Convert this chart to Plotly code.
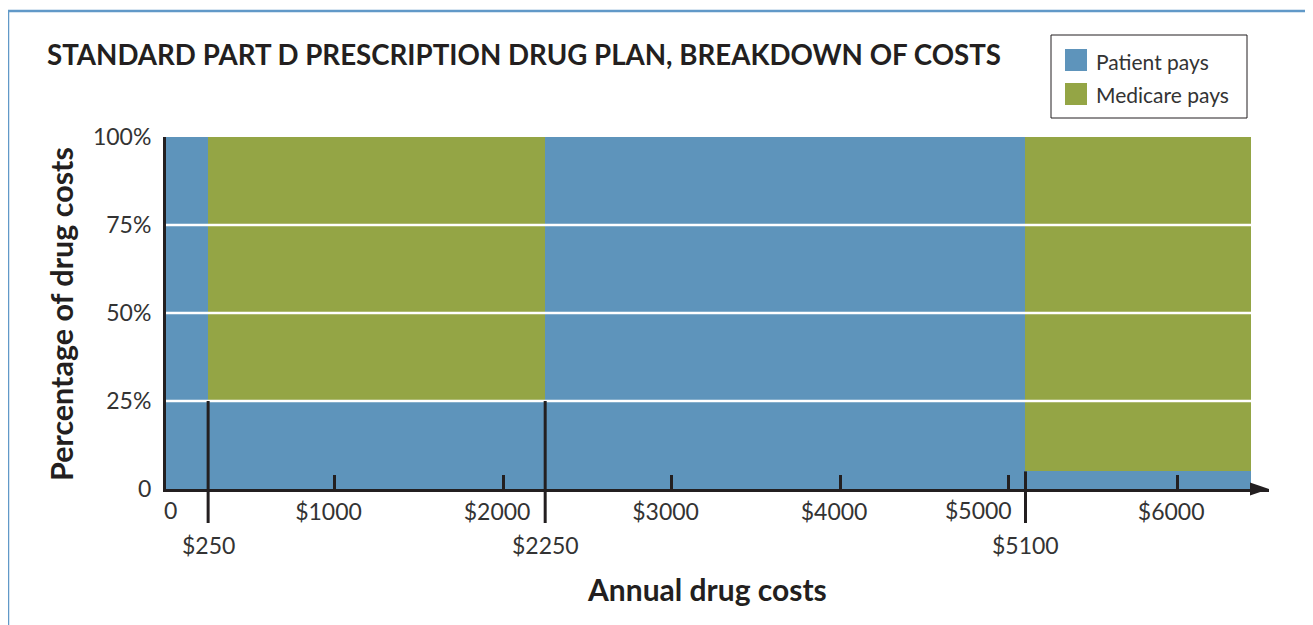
import plotly.graph_objects as go

# ---- data ----
boundaries = [0, 250, 2250, 5100, 6440]          # annual drug cost breakpoints ($)
patient_pct = [100, 25, 100, 5]                   # % paid by patient in each band
medicare_pct = [0, 75, 0, 95]                     # % paid by Medicare in each band
threshold_values = [250, 2250, 5100]
threshold_labels = ["$250", "$2250", "$5100"]
x_tickvals = [1000, 2000, 3000, 4000, 5000, 6000]
x_ticktext = ["$1000", "$2000", "$3000", "$4000", "$5000", "$6000"]
x_origin_label = "0"
y_tickvals = [0, 25, 50, 75, 100]
y_ticktext = ["0", "25%", "50%", "75%", "100%"]
grid_vals = [25, 50, 75]
series_names = ["Patient pays", "Medicare pays"]

BLUE = "#5e94bb"
GREEN = "#94a545"
INK = "#231f20"
TXT = "#333333"
FRAME = "#6199c8"
FONT = "Lato"

centers = [(boundaries[i] + boundaries[i + 1]) / 2 for i in range(len(boundaries) - 1)]
widths = [boundaries[i + 1] - boundaries[i] for i in range(len(boundaries) - 1)]

OFF = 8  # page body margin
W, H = 1313 - OFF, 625 - OFF
# plot area in page pixels: x 166..1269, y 137..489
PL, PR, PT, PB = 166, 1269, 137, 489
ML, MR, MT, MB = PL - OFF, W - (PR - OFF), PT - OFF, H - (PB - OFF)
PW = PR - PL
PH = PB - PT
X_MAX = 6545

def px(p):  # page x -> paper x
    return (p - PL) / PW

def py(p):  # page y -> paper y
    return (PB - p) / PH

fig = go.Figure()
fig.add_trace(go.Bar(x=centers, y=patient_pct, width=widths, name=series_names[0],
                     marker=dict(color=BLUE, line=dict(width=0)), hoverinfo="skip"))
fig.add_trace(go.Bar(x=centers, y=medicare_pct, width=widths, name=series_names[1],
                     marker=dict(color=GREEN, line=dict(width=0)), hoverinfo="skip"))

shapes = []
for g in grid_vals:
    shapes.append(dict(type="line", xref="x", yref="y", x0=boundaries[0], x1=boundaries[-1],
                       y0=g, y1=g, line=dict(color="white", width=2.5), layer="above"))

bottom = py(523)
for t in threshold_values:
    i = boundaries.index(t)
    top = min(patient_pct[i - 1], patient_pct[i]) / 100.0
    shapes.append(dict(type="line", xref="x", yref="paper", x0=t, x1=t, y0=top, y1=bottom,
                       line=dict(color=INK, width=3), layer="above"))

# arrow head at the end of the x axis (paper refs so it is not clipped)
shapes.append(dict(type="path", xref="paper", yref="paper", xsizemode="pixel", ysizemode="pixel",
                   xanchor=1, yanchor=0, path="M 0 0 L -19 -6.5 L -19 6.5 Z",
                   fillcolor=INK, line=dict(width=0), layer="above"))

shapes.append(dict(type="rect", xref="paper", yref="paper",
                   x0=px(8), x1=px(1307), y0=py(660), y1=py(11),
                   line=dict(color=FRAME, width=2.5), fillcolor="rgba(0,0,0,0)", layer="above"))

shapes.append(dict(type="rect", xref="paper", yref="paper",
                   x0=px(1051), x1=px(1247), y0=py(118), y1=py(35),
                   line=dict(color=INK, width=1), fillcolor="white", layer="above"))
legend_rows = [(60, BLUE), (94, GREEN)]
annotations = []
for (cy, col), name in zip(legend_rows, series_names):
    shapes.append(dict(type="rect", xref="paper", yref="paper",
                       x0=px(1065), x1=px(1087), y0=py(cy + 11), y1=py(cy - 11),
                       line=dict(width=0), fillcolor=col, layer="above"))
    annotations.append(dict(xref="paper", yref="paper", x=px(1094), y=py(cy + 1),
                            xanchor="left", yanchor="middle", text=name, showarrow=False,
                            font=dict(family=FONT, size=21, color=TXT)))

for t, lab in zip(threshold_values, threshold_labels):
    annotations.append(dict(xref="x", yref="paper", x=t, y=py(545),
                            xanchor="center", yanchor="middle", text=lab, showarrow=False,
                            font=dict(family=FONT, size=23, color=TXT)))

# origin label of the x axis
annotations.append(dict(xref="x", yref="paper", x=0, y=py(510), xshift=4,
                        xanchor="center", yanchor="middle", text=x_origin_label, showarrow=False,
                        font=dict(family=FONT, size=23, color=TXT)))

# tick labels: the one next to the $5100 marker is set to the left of its tick
axis_ticktext = []
for v, lab in zip(x_tickvals, x_ticktext):
    crowded = any(0 < t - v < 200 for t in threshold_values)
    if crowded:
        axis_ticktext.append("")
        annotations.append(dict(xref="x", yref="paper", x=v, y=py(510), xshift=5,
                                xanchor="right", yanchor="middle", text=lab, showarrow=False,
                                font=dict(family=FONT, size=23, color=TXT)))
    else:
        axis_ticktext.append(lab)

annotations.append(dict(xref="paper", yref="paper", x=px(707), y=py(589),
                        xanchor="center", yanchor="middle", text="<b>Annual drug costs</b>",
                        showarrow=False, font=dict(family=FONT, size=30, color=INK)))
annotations.append(dict(xref="paper", yref="paper", x=px(61), y=py(314),
                        xanchor="center", yanchor="middle", text="<b>Percentage of drug costs</b>",
                        textangle=-90, showarrow=False, font=dict(family=FONT, size=30.5, color=INK)))

fig.update_layout(
    width=W, height=H,
    margin=dict(l=ML, r=MR, t=MT, b=MB),
    paper_bgcolor="white", plot_bgcolor="white",
    barmode="stack",
    showlegend=False,
    title=dict(text="<b>STANDARD PART D PRESCRIPTION DRUG PLAN, BREAKDOWN OF COSTS</b>",
               xref="container", yref="container", x=(47 - OFF) / W, xanchor="left",
               y=1 - (55 - OFF) / H, yanchor="middle",
               font=dict(family=FONT, size=27.7, color=INK)),
    shapes=shapes,
    annotations=annotations,
    xaxis=dict(range=[0, X_MAX], tickvals=x_tickvals, ticktext=axis_ticktext,
               showgrid=False, zeroline=False, showline=True, linecolor=INK, linewidth=3,
               ticks="inside", ticklen=14, tickwidth=3, tickcolor=INK,
               ticklabelstandoff=0, ticklabelshift=-6,
               tickfont=dict(family=FONT, size=23, color=TXT), layer="above traces"),
    yaxis=dict(range=[0, 100], tickvals=y_tickvals, ticktext=y_ticktext,
               showgrid=False, zeroline=False, showline=True, linecolor=INK, linewidth=3,
               ticks="", ticklabelstandoff=7,
               tickfont=dict(family=FONT, size=23, color=TXT), layer="above traces"),
)

fig.write_html("out.html")
